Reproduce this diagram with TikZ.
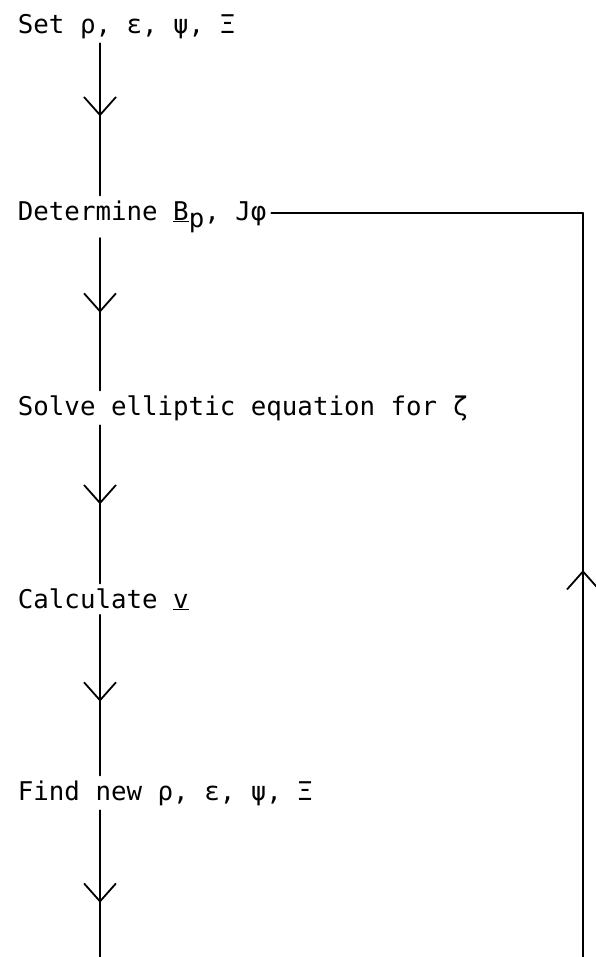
\documentclass[tikz,border=0pt]{standalone}
\usepackage{fontspec}
\setmonofont{DejaVu Sans Mono}
\usetikzlibrary{arrows.meta,decorations.markings}
\begin{document}
\begin{tikzpicture}[x=1bp,y=-1bp,line width=1.8bp,line cap=round,
  stage/.style={anchor=base west,inner sep=4bp,font=\fontsize{25.8bp}{30bp}\selectfont\ttfamily},
  flow/.style={postaction={decorate},decoration={markings,mark=at position #1 with {\arrow{Straight Barb[length=18bp,width=32bp]}}}},
  flow/.default=0.5]
\useasboundingbox (0,0) rectangle (596,957);
\coordinate (spine) at (100,0);
\node[stage] (set) at (13,33) {Set ρ, ε, ψ, Ξ};
\node[stage] (det) at (13,220) {Determine \underline{B}\raisebox{-0.3em}{p}, Jφ};
\node[stage] (solve) at (13,415) {Solve elliptic equation for ζ};
\node[stage] (calc) at (13,608) {Calculate \underline{v}};
\node[stage] (find) at (13,800) {Find new ρ, ε, ψ, Ξ};
\coordinate (lbot) at (100,957);
\coordinate (rbot) at (583,957);
\coordinate (corner) at (583,213);
% main chain
\draw[flow=0.48] (set.south -| spine) -- (det.north -| spine);
\draw[flow=0.49] (det.south -| spine) -- (solve.north -| spine);
\draw[flow] (solve.south -| spine) -- (calc.north -| spine);
\draw[flow=0.54] (calc.south -| spine) -- (find.north -| spine);
\draw[flow=0.63] (find.south -| spine) -- (lbot);
% return loop
\draw[flow=0.52] (rbot) -- (corner);
\draw (corner) -- (corner -| det.east);
\end{tikzpicture}
\end{document}
